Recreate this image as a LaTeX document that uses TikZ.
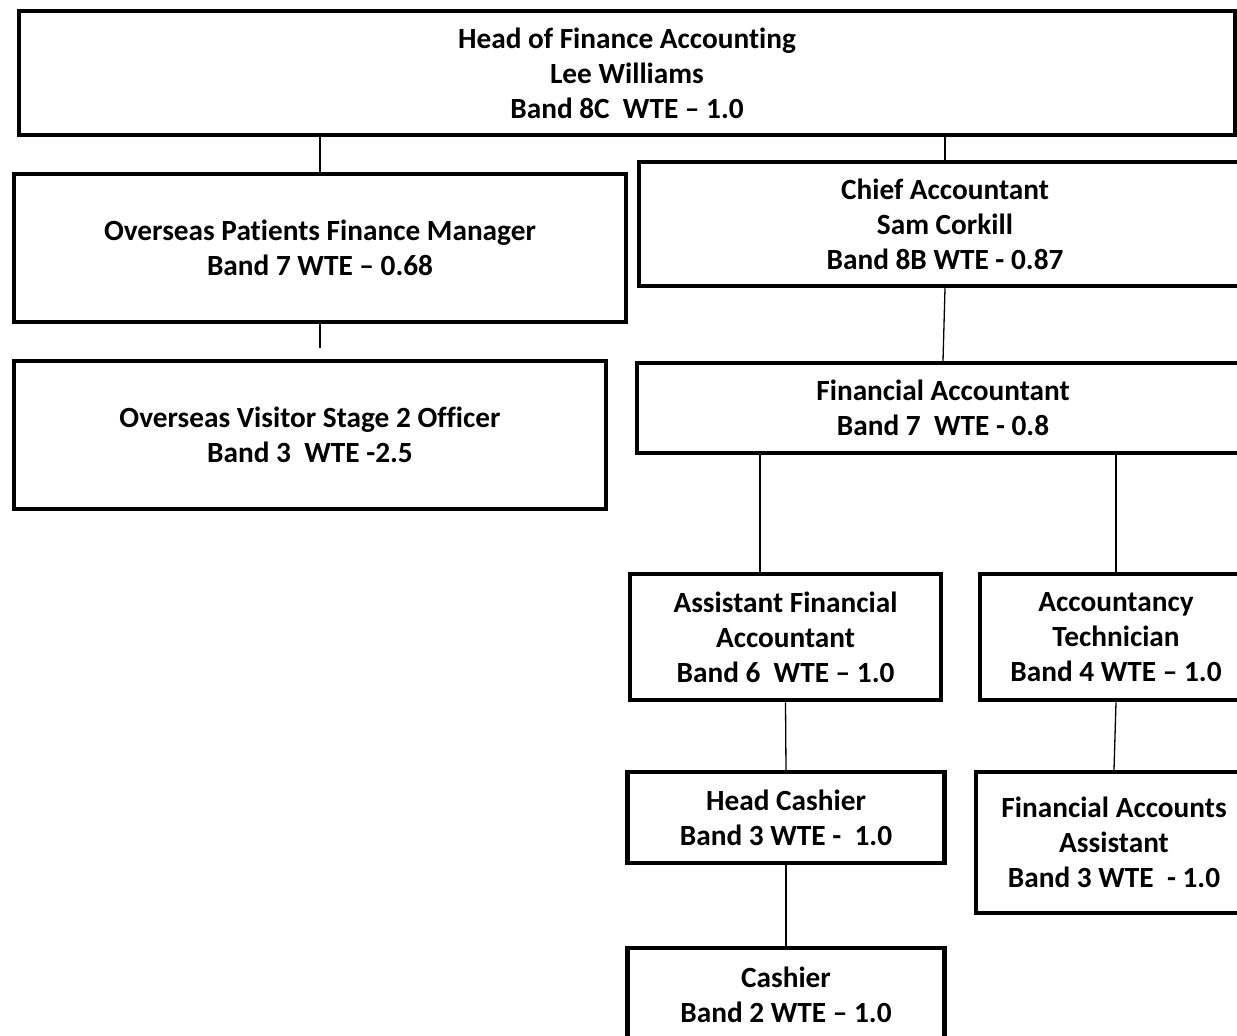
\documentclass[tikz,border=0pt]{standalone}
\usepackage{fontspec}
\setmainfont{Carlito}[Ligatures=NoCommon]
\usepackage{tikz}

\begin{document}
\begin{tikzpicture}[x=1pt, y=-1pt, line join=miter,
    post/.style={draw, line width=4.5pt, align=center, inner sep=0pt,
        font=\fontsize{29.3}{35}\selectfont\bfseries},
    link/.style={line width=1.3pt}]
        \useasboundingbox (0,0) rectangle (1237,1036);
        \clip (0,0) rectangle (1237,1036);

        \node[post, minimum width=1216pt, minimum height=124pt] (h) at (627,73)
            {Head of Finance Accounting\\Lee Williams\\Band 8C~ WTE – 1.0};
        \node[post, minimum width=612pt, minimum height=148pt] (o) at (320,248)
            {Overseas Patients Finance Manager\\Band 7 WTE – 0.68};
        \node[post, minimum width=592pt, minimum height=148pt] (v) at (310,435)
            {Overseas Visitor Stage 2 Officer\\Band 3~ WTE -2.5};
        \node[post, minimum width=612pt, minimum height=124pt] (c) at (945,224)
            {Chief Accountant\\Sam Corkill\\Band 8B WTE - 0.87};
        \node[post, minimum width=612pt, minimum height=90pt] (f) at (943,408)
            {Financial Accountant\\Band 7~ WTE - 0.8};
        \node[post, minimum width=311pt, minimum height=126pt] (a) at (785.5,637)
            {Assistant Financial\\Accountant\\Band 6~ WTE – 1.0};
        \node[post, minimum width=272pt, minimum height=126pt] (t) at (1116,637)
            {Accountancy\\Technician\\Band 4 WTE – 1.0};
        \node[post, minimum width=317pt, minimum height=91pt] (hc) at (786,817.5)
            {Head Cashier\\Band 3 WTE -~ 1.0};
        \node[post, minimum width=276pt, minimum height=141pt] (fa) at (1114,842.5)
            {Financial Accounts\\Assistant\\Band 3 WTE~ - 1.0};
        \node[post, minimum width=317pt, minimum height=93pt] (ca) at (786,994.5)
            {Cashier\\Band 2 WTE – 1.0};

        \coordinate (od) at (320,348);
        \coordinate (al) at (760,574);

        \path[link]
        (o.north |- h.south) edge (o.north)
        (c.north |- h.south) edge (c.north)
        (o.south) edge (od)
        (c.south) edge (f.north)
        (al |- f.south) edge (al |- a.north)
        (t.north |- f.south) edge (t.north)
        (a.south) edge (hc.north)
        (t.south) edge (fa.north)
        (hc.south) edge (ca.north)
        ;
    \end{tikzpicture}
\end{document}
